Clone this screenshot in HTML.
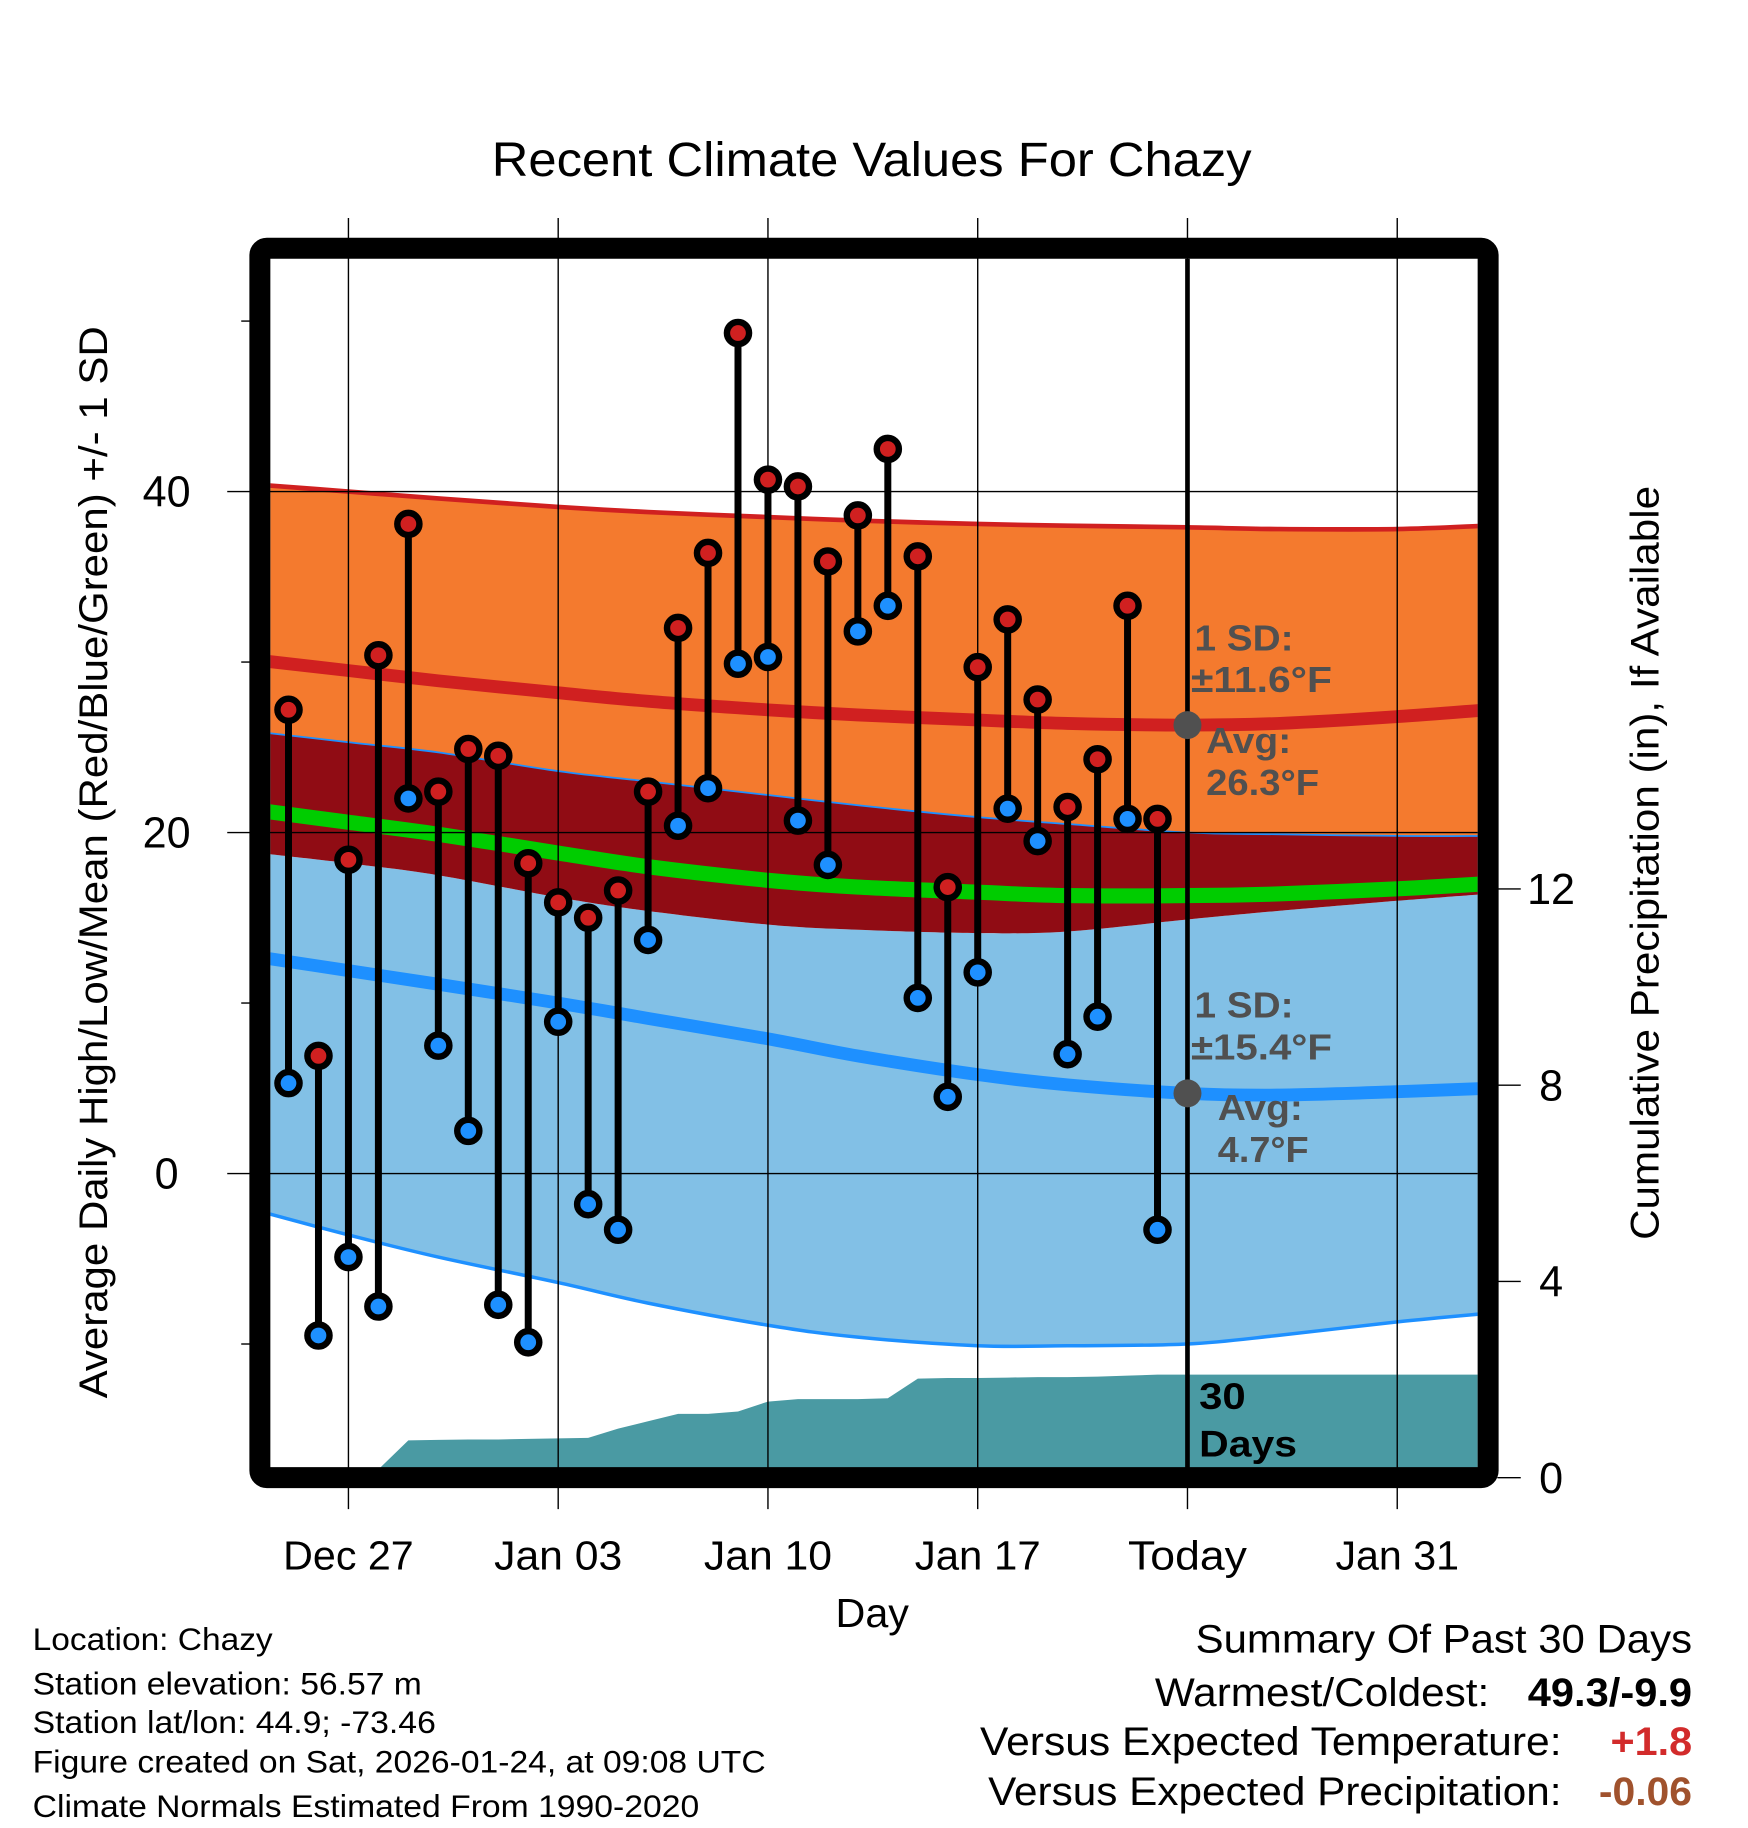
<!DOCTYPE html>
<html><head><meta charset="utf-8"><style>
html,body{margin:0;padding:0;background:#fff;}
svg{display:block;font-family:"Liberation Sans",Arial,sans-serif;}
</style></head><body>
<svg id="chart" width="1748" height="1828" viewBox="0 0 1500 1568.6" xmlns="http://www.w3.org/2000/svg">
<defs><clipPath id="plotclip"><rect x="232" y="222" width="1036" height="1038"/></clipPath></defs>
<text x="422" y="151" font-size="41" textLength="652" lengthAdjust="spacingAndGlyphs">Recent Climate Values For Chazy</text>
<g id="bands" clip-path="url(#plotclip)"></g>
<g id="grid"></g>
<g id="marks"></g>
<g id="axes"></g>
<g fill="#505050" font-weight="bold" font-size="31" lengthAdjust="spacingAndGlyphs">
<text x="1025" y="558" textLength="85" lengthAdjust="spacingAndGlyphs">1 SD:</text><text x="1022" y="594" textLength="121" lengthAdjust="spacingAndGlyphs">±11.6°F</text>
<text x="1035" y="646" textLength="73" lengthAdjust="spacingAndGlyphs">Avg:</text><text x="1035" y="682" textLength="97" lengthAdjust="spacingAndGlyphs">26.3°F</text>
</g>
<g fill="#505050" font-weight="bold" font-size="31">
<text x="1025" y="873" textLength="85" lengthAdjust="spacingAndGlyphs">1 SD:</text><text x="1022" y="909" textLength="121" lengthAdjust="spacingAndGlyphs">±15.4°F</text>
<text x="1045" y="961" textLength="73" lengthAdjust="spacingAndGlyphs">Avg:</text><text x="1045" y="997" textLength="78" lengthAdjust="spacingAndGlyphs">4.7°F</text>
</g>
<g font-weight="bold" font-size="32">
<text x="1029" y="1209" textLength="40" lengthAdjust="spacingAndGlyphs">30</text><text x="1029" y="1250" textLength="84" lengthAdjust="spacingAndGlyphs">Days</text>
</g>
<text x="717" y="1396" font-size="35" textLength="63" lengthAdjust="spacingAndGlyphs">Day</text>
<text transform="translate(92,740) rotate(-90)" font-size="34" x="-460" textLength="920" lengthAdjust="spacingAndGlyphs">Average Daily High/Low/Mean (Red/Blue/Green) +/- 1 SD</text>
<text transform="translate(1423,741) rotate(-90)" font-size="34" x="-323" textLength="647" lengthAdjust="spacingAndGlyphs">Cumulative Precipitation (in), If Available</text>
<g font-size="27">
<text x="28" y="1416" textLength="206" lengthAdjust="spacingAndGlyphs">Location: Chazy</text>
<text x="28" y="1454" textLength="334" lengthAdjust="spacingAndGlyphs">Station elevation: 56.57 m</text>
<text x="28" y="1487" textLength="346" lengthAdjust="spacingAndGlyphs">Station lat/lon: 44.9; -73.46</text>
<text x="28" y="1521" textLength="629" lengthAdjust="spacingAndGlyphs">Figure created on Sat, 2026-01-24, at 09:08 UTC</text>
<text x="28" y="1559" textLength="572" lengthAdjust="spacingAndGlyphs">Climate Normals Estimated From 1990-2020</text>
</g>
<g font-size="34">
<text x="1026" y="1418" textLength="426" lengthAdjust="spacingAndGlyphs">Summary Of Past 30 Days</text>
<text x="991" y="1464" textLength="287" lengthAdjust="spacingAndGlyphs">Warmest/Coldest:</text>
<text x="1311" y="1464" font-weight="bold" textLength="141" lengthAdjust="spacingAndGlyphs">49.3/-9.9</text>
<text x="841" y="1506" textLength="499" lengthAdjust="spacingAndGlyphs">Versus Expected Temperature:</text>
<text x="1382" y="1506" font-weight="bold" fill="#d22b2b" textLength="70" lengthAdjust="spacingAndGlyphs">+1.8</text>
<text x="848" y="1549" textLength="492" lengthAdjust="spacingAndGlyphs">Versus Expected Precipitation:</text>
<text x="1372" y="1549" font-weight="bold" fill="#a0522d" textLength="80" lengthAdjust="spacingAndGlyphs">-0.06</text>
</g>
</svg>
<script>
// data: day offsets relative to Dec 27 (0 = Dec 27)
const obsDays = [-2,-1,0,1,2,3,4,5,6,7,8,9,10,11,12,13,14,15,16,17,18,19,20,21,22,23,24,25,26,27];
const highs = [27.2,6.9,18.4,30.4,38.1,22.4,24.9,24.5,18.2,15.9,15.0,16.6,22.4,32.0,36.4,49.3,40.7,40.3,35.9,38.6,42.5,36.2,16.8,29.7,32.5,27.8,21.5,24.3,33.3,20.8];
const lows = [5.3,-9.5,-4.9,-7.8,22.0,7.5,2.5,-7.7,-9.9,8.9,-1.8,-3.3,13.7,20.4,22.6,29.9,30.3,20.7,18.1,31.8,33.3,10.3,4.5,11.8,21.4,19.5,7.0,9.2,20.8,-3.3];
const normDays = [-3,0,3,7,10,14,17,21,24,28,31,35,38];
const meanHi = [30.1,29.5,28.9,28.2,27.7,27.2,26.9,26.6,26.4,26.3,26.4,26.8,27.2];
const hiUpper = [40.4,40.0,39.6,39.1,38.8,38.5,38.3,38.1,38.0,37.9,37.8,37.8,38.0];
const hiLower = [25.9,25.3,24.7,23.6,23.0,22.2,21.6,20.9,20.5,20.0,19.9,19.8,19.8];
const meanAll = [21.3,20.6,19.9,18.8,18.0,17.2,16.8,16.5,16.3,16.3,16.4,16.7,17.0];
const loUpper = [18.8,18.2,17.5,16.2,15.4,14.6,14.3,14.1,14.2,14.9,15.4,16.0,16.4];
const meanLo = [12.7,11.9,11.1,10.0,9.1,7.9,6.9,5.8,5.2,4.7,4.6,4.8,5.0];
const loLower = [-2.2,-3.6,-4.9,-6.4,-7.6,-8.9,-9.6,-10.1,-10.1,-10.0,-9.5,-8.7,-8.2];
const precipDays = [-3,-2,-1,0,0.8,2,3,4,5,6,7,8,9,10,11,12,13,14,15,16,17,18,19,20,21,22,23,24,25,26,27,28,38];
const precipCum = [0,0,0,0,0.05,0.76,0.77,0.78,0.78,0.79,0.8,0.81,1.0,1.15,1.3,1.3,1.35,1.55,1.6,1.6,1.6,1.62,2.02,2.03,2.03,2.04,2.05,2.05,2.06,2.08,2.1,2.1,2.1];
const xTickDays = [0,7,14,21,28,35];
const xTickLabels = ["Dec 27","Jan 03","Jan 10","Jan 17","Today","Jan 31"];
const yTicks = [0,20,40];
const yMinor = [-10,10,30,50];
const pTicks = [0,4,8,12];

const NS="http://www.w3.org/2000/svg";
function xs(d){return 299 + d*(720/28);}
function ys(v){return 1007 - v*14.63;}
function yp(p){return 1268 - p*42.1;}
function el(tag, attrs, parent){const e=document.createElementNS(NS,tag);for(const k in attrs)e.setAttribute(k,attrs[k]);parent.appendChild(e);return e;}
function pts(days, vals){return days.map((d,i)=>[xs(d),ys(vals[i])]);}
function smooth(p){let s="";for(let i=0;i<p.length-1;i++){const p0=p[Math.max(0,i-1)],p1=p[i],p2=p[i+1],p3=p[Math.min(p.length-1,i+2)];const c1=[p1[0]+(p2[0]-p0[0])/6,p1[1]+(p2[1]-p0[1])/6],c2=[p2[0]-(p3[0]-p1[0])/6,p2[1]-(p3[1]-p1[1])/6];s+=" C"+c1[0].toFixed(1)+","+c1[1].toFixed(1)+" "+c2[0].toFixed(1)+","+c2[1].toFixed(1)+" "+p2[0].toFixed(1)+","+p2[1].toFixed(1);}return s;}
function linePath(days, vals){const p=pts(days,vals);return "M"+p[0][0].toFixed(1)+","+p[0][1].toFixed(1)+smooth(p);}
function bandPath(days, up, lo){const a=pts(days,up), b=pts(days,lo).reverse();return "M"+a[0][0]+","+a[0][1]+smooth(a)+" L"+b[0][0]+","+b[0][1]+smooth(b)+"Z";}

const bands=document.getElementById('bands');
let e;
e=el('path',{d:bandPath(normDays,loUpper,loLower),fill:'#82c0e6'},bands);


e=el('path',{d:bandPath(normDays,hiUpper,hiLower),fill:'#f47a2e'},bands);


e=el('path',{d:bandPath(normDays,hiLower,loUpper),fill:'#900c14'},bands);


e=el('path',{d:linePath(normDays,hiLower),fill:'none',stroke:'#1e90ff','stroke-width':1.5},bands);


e=el('path',{d:linePath(normDays,hiUpper),fill:'none',stroke:'#d02020','stroke-width':4},bands);


e=el('path',{d:linePath(normDays,loLower),fill:'none',stroke:'#1e90ff','stroke-width':3},bands);


e=el('path',{d:linePath(normDays,meanAll),fill:'none',stroke:'#00cc00','stroke-width':13},bands);


e=el('path',{d:linePath(normDays,meanHi),fill:'none',stroke:'#d02020','stroke-width':11},bands);


e=el('path',{d:linePath(normDays,meanLo),fill:'none',stroke:'#1e90ff','stroke-width':11},bands);


let pp="M"+xs(precipDays[0])+","+yp(0);
precipDays.forEach((d,i)=>{pp+=" L"+xs(d).toFixed(1)+","+yp(precipCum[i]).toFixed(1);});
pp+=" L"+xs(precipDays[precipDays.length-1])+","+yp(0)+"Z";
e=el('path',{d:pp,fill:'#4a9aa3'},bands);



const grid=document.getElementById('grid');
const xLabW=[112,110,110,108,102,106];
xTickDays.forEach((d,i)=>{
  const x=xs(d);
  e=el('line',{x1:x,y1:187,x2:x,y2:1295,stroke:'#000','stroke-width':1.2},grid);
  
  
  if(xTickLabels[i]==="Today"){
    e=el('line',{x1:x,y1:222,x2:x,y2:1262,stroke:'#000','stroke-width':4},grid);
    
    
  }
  e=el('text',{x:x-xLabW[i]/2,y:1347,'font-size':35,textLength:xLabW[i],lengthAdjust:'spacingAndGlyphs'},grid);
  e.textContent=xTickLabels[i];
  
  
});
yTicks.forEach(v=>{
  const y=ys(v);
  e=el('line',{x1:195,y1:y,x2:1268,y2:y,stroke:'#000','stroke-width':1.2},grid);
  
  
  e=el('text',{x:143,y:y+13,'font-size':37,'text-anchor':'middle'},grid);
  e.textContent=v;
  
  
});
yMinor.forEach(v=>{
  e=el('line',{x1:207,y1:ys(v),x2:216,y2:ys(v),stroke:'#000','stroke-width':1.2},grid);
  
  
});
pTicks.forEach(p=>{
  e=el('line',{x1:1285,y1:yp(p),x2:1305,y2:yp(p),stroke:'#000','stroke-width':1.2},grid);
  
  
  e=el('text',{x:1331,y:yp(p)+13,'font-size':37,'text-anchor':'middle'},grid);
  e.textContent=p;
  
  
});

const marks=document.getElementById('marks');
obsDays.forEach((d,i)=>{
  const x=xs(d);
  e=el('line',{x1:x,y1:ys(highs[i]),x2:x,y2:ys(lows[i]),stroke:'#000','stroke-width':6},marks);
  
  
});
obsDays.forEach((d,i)=>{
  const x=xs(d);
  e=el('circle',{cx:x,cy:ys(lows[i]),r:9.5,fill:'#1e90ff',stroke:'#000','stroke-width':5.5},marks);
  
  
  e=el('circle',{cx:x,cy:ys(highs[i]),r:9.5,fill:'#d02020',stroke:'#000','stroke-width':5.5},marks);
  
  
});
e=el('circle',{cx:xs(28),cy:ys(meanHi[9]),r:12,fill:'#505050'},marks);


e=el('circle',{cx:xs(28),cy:ys(meanLo[9]),r:12,fill:'#505050'},marks);



const axes=document.getElementById('axes');
e=el('rect',{x:223,y:213,width:1054,height:1055,rx:6,fill:'none',stroke:'#000','stroke-width':18},axes);


</script>
</body></html>
